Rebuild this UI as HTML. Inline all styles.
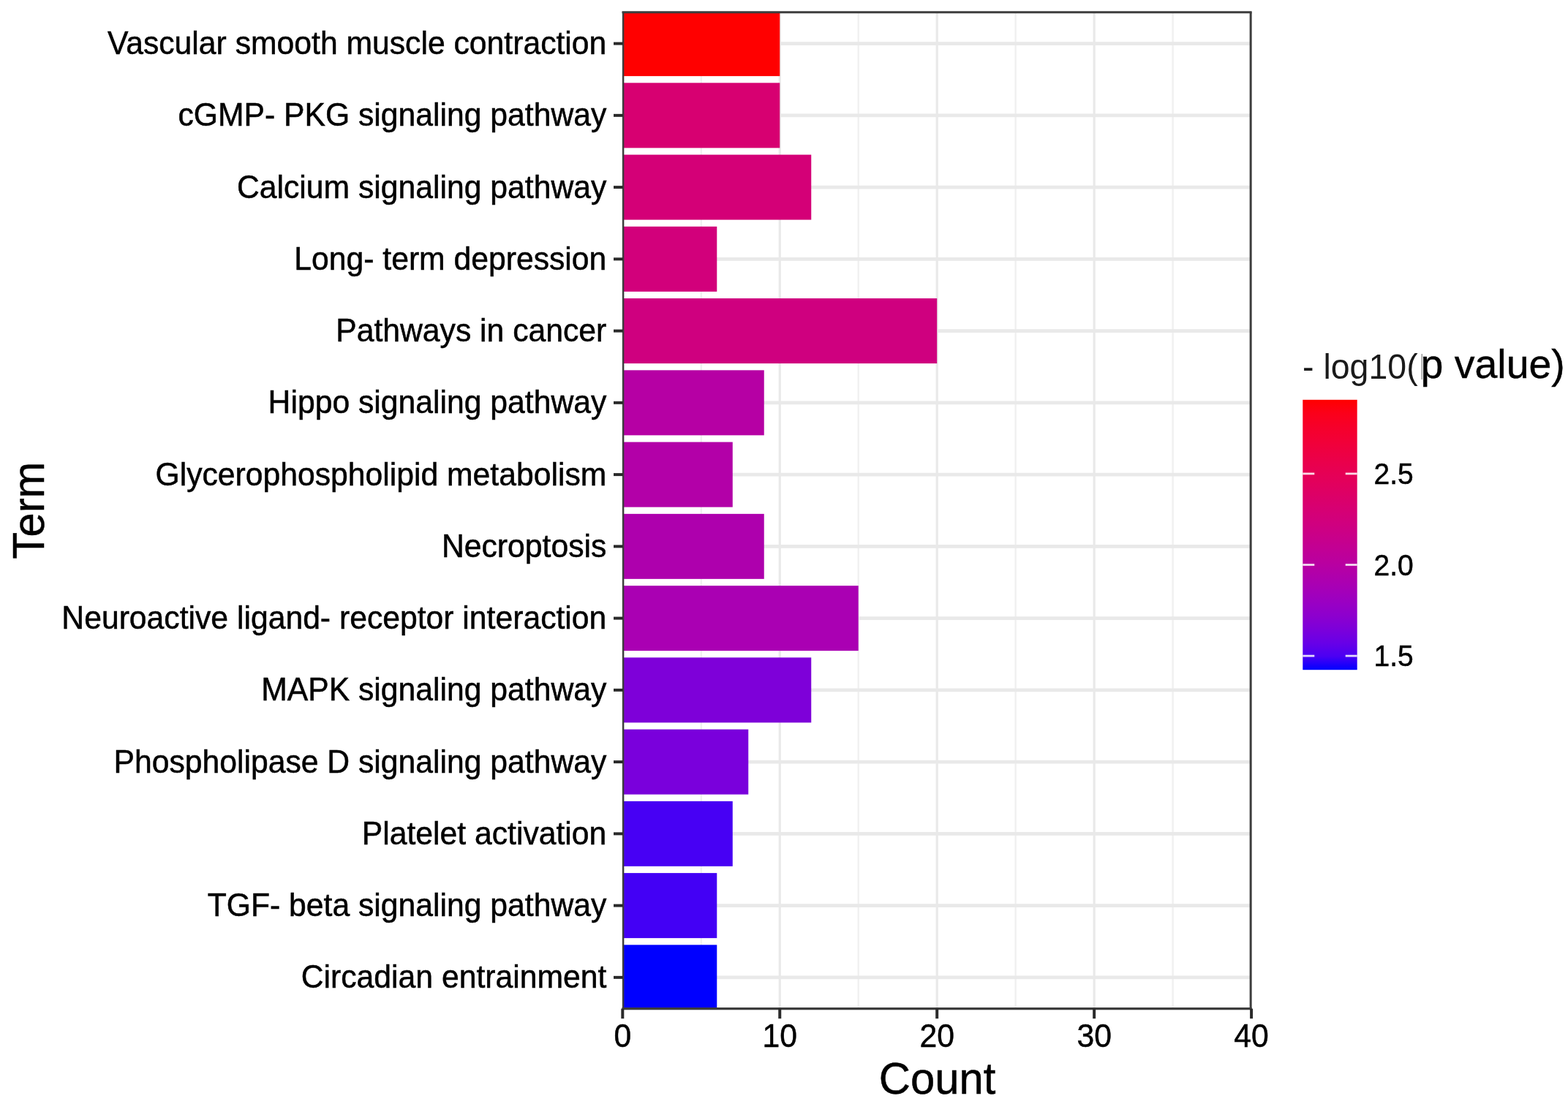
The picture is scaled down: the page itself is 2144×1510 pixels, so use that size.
<!DOCTYPE html>
<html lang="en">
<head>
<meta charset="utf-8">
<title>KEGG pathway enrichment</title>
<style>
html,body{margin:0;padding:0;background:#fff;}
body{width:2144px;height:1510px;overflow:hidden;}
svg{display:block;filter:blur(0.6px);}
text{font-family:"Liberation Sans",sans-serif;fill:#000;}
.ax{font-size:42.7px;}
.ttl{font-size:59.8px;}
.lg{font-size:39px;}
</style>
</head>
<body>
<svg width="2144" height="1510" viewBox="0 0 2144 1510">
<defs>
<linearGradient id="cb" x1="0" y1="1" x2="0" y2="0">
<stop offset="0.00" stop-color="#0000ff"/>
<stop offset="0.05" stop-color="#4b00f3"/>
<stop offset="0.10" stop-color="#6800e7"/>
<stop offset="0.15" stop-color="#7c00da"/>
<stop offset="0.20" stop-color="#8d00ce"/>
<stop offset="0.25" stop-color="#9a00c3"/>
<stop offset="0.30" stop-color="#a600b7"/>
<stop offset="0.35" stop-color="#b000ab"/>
<stop offset="0.40" stop-color="#ba009f"/>
<stop offset="0.45" stop-color="#c20094"/>
<stop offset="0.50" stop-color="#ca0088"/>
<stop offset="0.55" stop-color="#d1007d"/>
<stop offset="0.60" stop-color="#d70072"/>
<stop offset="0.65" stop-color="#dd0066"/>
<stop offset="0.70" stop-color="#e3005b"/>
<stop offset="0.75" stop-color="#e80050"/>
<stop offset="0.80" stop-color="#ed0044"/>
<stop offset="0.85" stop-color="#f20037"/>
<stop offset="0.90" stop-color="#f6002a"/>
<stop offset="0.95" stop-color="#fb001a"/>
<stop offset="1.00" stop-color="#ff0000"/>
</linearGradient>
</defs>
<rect x="0" y="0" width="2144" height="1510" fill="#ffffff"/>
<g id="grid">
<line x1="958.77" y1="16.80" x2="958.77" y2="1379.65" stroke="#f0f0f0" stroke-width="2.4"/>
<line x1="1173.72" y1="16.80" x2="1173.72" y2="1379.65" stroke="#f0f0f0" stroke-width="2.4"/>
<line x1="1388.67" y1="16.80" x2="1388.67" y2="1379.65" stroke="#f0f0f0" stroke-width="2.4"/>
<line x1="1603.62" y1="16.80" x2="1603.62" y2="1379.65" stroke="#f0f0f0" stroke-width="2.4"/>
<line x1="1066.25" y1="16.80" x2="1066.25" y2="1379.65" stroke="#e9e9e9" stroke-width="3.2"/>
<line x1="1281.20" y1="16.80" x2="1281.20" y2="1379.65" stroke="#e9e9e9" stroke-width="3.2"/>
<line x1="1496.15" y1="16.80" x2="1496.15" y2="1379.65" stroke="#e9e9e9" stroke-width="3.2"/>
<line x1="851.80" y1="59.60" x2="1710.15" y2="59.60" stroke="#e9e9e9" stroke-width="4.6"/>
<line x1="851.80" y1="157.85" x2="1710.15" y2="157.85" stroke="#e9e9e9" stroke-width="4.6"/>
<line x1="851.80" y1="256.10" x2="1710.15" y2="256.10" stroke="#e9e9e9" stroke-width="4.6"/>
<line x1="851.80" y1="354.35" x2="1710.15" y2="354.35" stroke="#e9e9e9" stroke-width="4.6"/>
<line x1="851.80" y1="452.60" x2="1710.15" y2="452.60" stroke="#e9e9e9" stroke-width="4.6"/>
<line x1="851.80" y1="550.85" x2="1710.15" y2="550.85" stroke="#e9e9e9" stroke-width="4.6"/>
<line x1="851.80" y1="649.10" x2="1710.15" y2="649.10" stroke="#e9e9e9" stroke-width="4.6"/>
<line x1="851.80" y1="747.35" x2="1710.15" y2="747.35" stroke="#e9e9e9" stroke-width="4.6"/>
<line x1="851.80" y1="845.60" x2="1710.15" y2="845.60" stroke="#e9e9e9" stroke-width="4.6"/>
<line x1="851.80" y1="943.85" x2="1710.15" y2="943.85" stroke="#e9e9e9" stroke-width="4.6"/>
<line x1="851.80" y1="1042.10" x2="1710.15" y2="1042.10" stroke="#e9e9e9" stroke-width="4.6"/>
<line x1="851.80" y1="1140.35" x2="1710.15" y2="1140.35" stroke="#e9e9e9" stroke-width="4.6"/>
<line x1="851.80" y1="1238.60" x2="1710.15" y2="1238.60" stroke="#e9e9e9" stroke-width="4.6"/>
<line x1="851.80" y1="1336.85" x2="1710.15" y2="1336.85" stroke="#e9e9e9" stroke-width="4.6"/>
</g>
<g id="bars">
<rect x="851.30" y="16.80" width="214.95" height="87.30" fill="#ff0000"/>
<rect x="851.30" y="113.35" width="214.95" height="89.00" fill="#d70071"/>
<rect x="851.30" y="211.60" width="257.94" height="89.00" fill="#d40077"/>
<rect x="851.30" y="309.85" width="128.97" height="89.00" fill="#d2007b"/>
<rect x="851.30" y="408.10" width="429.90" height="89.00" fill="#cf007f"/>
<rect x="851.30" y="506.35" width="193.45" height="89.00" fill="#b600a4"/>
<rect x="851.30" y="604.60" width="150.46" height="89.00" fill="#b300a8"/>
<rect x="851.30" y="702.85" width="193.45" height="89.00" fill="#ae00ad"/>
<rect x="851.30" y="801.10" width="322.42" height="89.00" fill="#aa00b3"/>
<rect x="851.30" y="899.35" width="257.94" height="89.00" fill="#7e00d9"/>
<rect x="851.30" y="997.60" width="171.96" height="89.00" fill="#7a00dc"/>
<rect x="851.30" y="1095.85" width="150.46" height="89.00" fill="#4700f4"/>
<rect x="851.30" y="1194.10" width="128.97" height="89.00" fill="#4300f5"/>
<rect x="851.30" y="1292.35" width="128.97" height="87.30" fill="#0000ff"/>
</g>
<g id="border" stroke="#3d3d3d" fill="none">
<line x1="850.50" y1="16.80" x2="1711.65" y2="16.80" stroke-width="3"/>
<line x1="850.50" y1="1379.65" x2="1711.65" y2="1379.65" stroke-width="3.2"/>
<line x1="852.10" y1="16.80" x2="852.10" y2="1379.65" stroke-width="2.5"/>
<line x1="1710.15" y1="16.80" x2="1710.15" y2="1379.65" stroke-width="3"/>
</g>
<g id="yaxis">
<line x1="839" y1="59.60" x2="851.80" y2="59.60" stroke="#2a2a2a" stroke-width="4"/>
<text class="ax" transform="translate(829.30,74.20) scale(1,1.02)" text-anchor="end" stroke="#000" stroke-width="0.5">Vascular smooth muscle contraction</text>
<line x1="839" y1="157.85" x2="851.80" y2="157.85" stroke="#2a2a2a" stroke-width="4"/>
<text class="ax" transform="translate(829.30,172.45) scale(1,1.02)" text-anchor="end" stroke="#000" stroke-width="0.5">cGMP- PKG signaling pathway</text>
<line x1="839" y1="256.10" x2="851.80" y2="256.10" stroke="#2a2a2a" stroke-width="4"/>
<text class="ax" transform="translate(829.30,270.70) scale(1,1.02)" text-anchor="end" stroke="#000" stroke-width="0.5">Calcium signaling pathway</text>
<line x1="839" y1="354.35" x2="851.80" y2="354.35" stroke="#2a2a2a" stroke-width="4"/>
<text class="ax" transform="translate(829.30,368.95) scale(1,1.02)" text-anchor="end" stroke="#000" stroke-width="0.5">Long- term depression</text>
<line x1="839" y1="452.60" x2="851.80" y2="452.60" stroke="#2a2a2a" stroke-width="4"/>
<text class="ax" transform="translate(829.30,467.20) scale(1,1.02)" text-anchor="end" stroke="#000" stroke-width="0.5">Pathways in cancer</text>
<line x1="839" y1="550.85" x2="851.80" y2="550.85" stroke="#2a2a2a" stroke-width="4"/>
<text class="ax" transform="translate(829.30,565.45) scale(1,1.02)" text-anchor="end" stroke="#000" stroke-width="0.5">Hippo signaling pathway</text>
<line x1="839" y1="649.10" x2="851.80" y2="649.10" stroke="#2a2a2a" stroke-width="4"/>
<text class="ax" transform="translate(829.30,663.70) scale(1,1.02)" text-anchor="end" stroke="#000" stroke-width="0.5">Glycerophospholipid metabolism</text>
<line x1="839" y1="747.35" x2="851.80" y2="747.35" stroke="#2a2a2a" stroke-width="4"/>
<text class="ax" transform="translate(829.30,761.95) scale(1,1.02)" text-anchor="end" stroke="#000" stroke-width="0.5">Necroptosis</text>
<line x1="839" y1="845.60" x2="851.80" y2="845.60" stroke="#2a2a2a" stroke-width="4"/>
<text class="ax" transform="translate(829.30,860.20) scale(1,1.02)" text-anchor="end" stroke="#000" stroke-width="0.5">Neuroactive ligand- receptor interaction</text>
<line x1="839" y1="943.85" x2="851.80" y2="943.85" stroke="#2a2a2a" stroke-width="4"/>
<text class="ax" transform="translate(829.30,958.45) scale(1,1.02)" text-anchor="end" stroke="#000" stroke-width="0.5">MAPK signaling pathway</text>
<line x1="839" y1="1042.10" x2="851.80" y2="1042.10" stroke="#2a2a2a" stroke-width="4"/>
<text class="ax" transform="translate(829.30,1056.70) scale(1,1.02)" text-anchor="end" stroke="#000" stroke-width="0.5">Phospholipase D signaling pathway</text>
<line x1="839" y1="1140.35" x2="851.80" y2="1140.35" stroke="#2a2a2a" stroke-width="4"/>
<text class="ax" transform="translate(829.30,1154.95) scale(1,1.02)" text-anchor="end" stroke="#000" stroke-width="0.5">Platelet activation</text>
<line x1="839" y1="1238.60" x2="851.80" y2="1238.60" stroke="#2a2a2a" stroke-width="4"/>
<text class="ax" transform="translate(829.30,1253.20) scale(1,1.02)" text-anchor="end" stroke="#000" stroke-width="0.5">TGF- beta signaling pathway</text>
<line x1="839" y1="1336.85" x2="851.80" y2="1336.85" stroke="#2a2a2a" stroke-width="4"/>
<text class="ax" transform="translate(829.30,1351.45) scale(1,1.02)" text-anchor="end" stroke="#000" stroke-width="0.5">Circadian entrainment</text>
</g>
<g id="xaxis">
<line x1="851.30" y1="1379.65" x2="851.30" y2="1393.2" stroke="#2a2a2a" stroke-width="4"/>
<text class="ax" transform="translate(851.30,1432.00) scale(1,1.045)" text-anchor="middle" stroke="#000" stroke-width="0.5">0</text>
<line x1="1066.25" y1="1379.65" x2="1066.25" y2="1393.2" stroke="#2a2a2a" stroke-width="4"/>
<text class="ax" transform="translate(1066.25,1432.00) scale(1,1.045)" text-anchor="middle" stroke="#000" stroke-width="0.5">10</text>
<line x1="1281.20" y1="1379.65" x2="1281.20" y2="1393.2" stroke="#2a2a2a" stroke-width="4"/>
<text class="ax" transform="translate(1281.20,1432.00) scale(1,1.045)" text-anchor="middle" stroke="#000" stroke-width="0.5">20</text>
<line x1="1496.15" y1="1379.65" x2="1496.15" y2="1393.2" stroke="#2a2a2a" stroke-width="4"/>
<text class="ax" transform="translate(1496.15,1432.00) scale(1,1.045)" text-anchor="middle" stroke="#000" stroke-width="0.5">30</text>
<line x1="1711.10" y1="1379.65" x2="1711.10" y2="1393.2" stroke="#2a2a2a" stroke-width="4"/>
<text class="ax" transform="translate(1711.10,1432.00) scale(1,1.045)" text-anchor="middle" stroke="#000" stroke-width="0.5">40</text>
</g>
<text class="ttl" transform="translate(1281.50,1495.80) scale(1,1.035)" text-anchor="middle" stroke="#000" stroke-width="0.5">Count</text>
<text class="ttl" transform="translate(60.30,698.00) rotate(-90) scale(1,1.035)" text-anchor="middle" stroke="#000" stroke-width="0.5">Term</text>
<g id="legend">
<text transform="translate(1781.00,518.40) scale(1,1.02)" style="font-size:46.5px;fill:#1a1a1a">- log10(</text>
<rect x="1943.6" y="484" width="1.3" height="35" fill="#8a8a8a"/>
<text transform="translate(1942.40,516.80)" style="font-size:55.5px" stroke="#000" stroke-width="0.4">p value)</text>
<rect x="1781.3" y="546.8" width="74.4" height="369.4" fill="url(#cb)"/>
<line x1="1781.3" y1="647.9" x2="1797.3" y2="647.9" stroke="#ffffff" stroke-opacity="0.85" stroke-width="2.8"/>
<line x1="1839.7" y1="647.9" x2="1855.7" y2="647.9" stroke="#ffffff" stroke-opacity="0.85" stroke-width="2.8"/>
<text class="lg" transform="translate(1878.50,662.10) scale(1,1.045)" stroke="#000" stroke-width="0.5">2.5</text>
<line x1="1781.3" y1="772.5" x2="1797.3" y2="772.5" stroke="#ffffff" stroke-opacity="0.85" stroke-width="2.8"/>
<line x1="1839.7" y1="772.5" x2="1855.7" y2="772.5" stroke="#ffffff" stroke-opacity="0.85" stroke-width="2.8"/>
<text class="lg" transform="translate(1878.50,786.70) scale(1,1.045)" stroke="#000" stroke-width="0.5">2.0</text>
<line x1="1781.3" y1="897.1" x2="1797.3" y2="897.1" stroke="#ffffff" stroke-opacity="0.85" stroke-width="2.8"/>
<line x1="1839.7" y1="897.1" x2="1855.7" y2="897.1" stroke="#ffffff" stroke-opacity="0.85" stroke-width="2.8"/>
<text class="lg" transform="translate(1878.50,911.30) scale(1,1.045)" stroke="#000" stroke-width="0.5">1.5</text>
</g>
</svg>
</body>
</html>
